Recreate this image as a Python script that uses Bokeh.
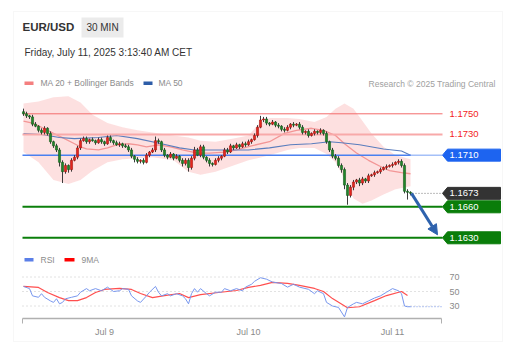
import numpy as np
from bokeh.plotting import figure
from bokeh.models import (Range1d, DatetimeAxis, LinearAxis, FixedTicker, Label,
                          BoxAnnotation, Arrow, NormalHead, ColumnDataSource)
from bokeh.embed import file_html
from bokeh.resources import INLINE

# ---------------- data ----------------
symbol = "EUR/USD"
interval = "30 MIN"
stamp = "Friday, July 11, 2025 3:13:40 AM CET"
first_candle = "2025-07-08T10:30"
first_open = 1.1752

close = [
    1.1750, 1.1748, 1.1747, 1.1740, 1.1738, 1.1734, 1.1732, 1.1736, 1.1731, 1.1723,
    1.1719, 1.1715, 1.1703, 1.1694, 1.1700, 1.1696, 1.1705, 1.1708, 1.1717, 1.1724,
    1.1726, 1.1723, 1.1725, 1.1724, 1.1722, 1.1725, 1.1723, 1.1721, 1.1727, 1.1724,
    1.1722, 1.1720, 1.1721, 1.1719, 1.1718, 1.1715, 1.1709, 1.1706, 1.1704, 1.1705,
    1.1703, 1.1710, 1.1713, 1.1715, 1.1724, 1.1723, 1.1715, 1.1710, 1.1708, 1.1711,
    1.1707, 1.1709, 1.1705, 1.1702, 1.1705, 1.1698, 1.1707, 1.1715, 1.1710, 1.1718,
    1.1708, 1.1705, 1.1702, 1.1701, 1.1705, 1.1707, 1.1709, 1.1715, 1.1713, 1.1719,
    1.1717, 1.1720, 1.1718, 1.1721, 1.1720, 1.1723, 1.1725, 1.1729, 1.1737, 1.1744,
    1.1745, 1.1741, 1.1740, 1.1742, 1.1739, 1.1738, 1.1735, 1.1734, 1.1737, 1.1740,
    1.1739, 1.1740, 1.1737, 1.1732, 1.1733, 1.1729, 1.1731, 1.1733, 1.1732, 1.1734,
    1.1731, 1.1723, 1.1715, 1.1709, 1.1707, 1.1700, 1.1696, 1.1681, 1.1671, 1.1679,
    1.1684, 1.1686, 1.1683, 1.1687, 1.1685, 1.1690, 1.1691, 1.1693, 1.1694, 1.1696,
    1.1698, 1.1699, 1.1700, 1.1701, 1.1703, 1.1704, 1.1700, 1.1675, 1.1674, 1.1673,
]
# wick lengths in pips beyond the candle body
wick_up = [
    3, 2, 1, 2, 2, 1, 2, 2, 1, 2,
    1, 2, 2, 2, 2, 1, 2, 2, 2, 2,
    2, 2, 1, 2, 1, 2, 2, 1, 2, 2,
    1, 2, 2, 1, 2, 2, 2, 1, 2, 1,
    2, 2, 1, 2, 4, 2, 1, 2, 1, 2,
    1, 2, 1, 2, 2, 2, 2, 3, 2, 2,
    2, 1, 2, 1, 2, 2, 1, 2, 2, 2,
    1, 2, 1, 2, 2, 2, 1, 2, 2, 4,
    2, 2, 1, 2, 1, 2, 1, 2, 2, 1,
    2, 1, 2, 2, 1, 2, 1, 2, 1, 2,
    1, 2, 1, 2, 2, 2, 2, 2, 2, 2,
    2, 1, 2, 2, 1, 2, 1, 2, 1, 2,
    1, 2, 1, 2, 1, 2, 2, 2, 2, 1,
]
wick_dn = [
    2, 2, 2, 2, 1, 2, 2, 2, 2, 2,
    2, 2, 4, 11, 2, 3, 2, 1, 2, 2,
    1, 2, 2, 1, 2, 1, 2, 2, 1, 2,
    2, 1, 2, 2, 1, 2, 2, 3, 2, 2,
    2, 1, 2, 1, 2, 2, 2, 2, 2, 1,
    2, 1, 2, 3, 2, 4, 2, 2, 1, 2,
    2, 2, 3, 2, 1, 2, 2, 1, 2, 1,
    2, 1, 2, 1, 2, 1, 2, 1, 2, 1,
    2, 2, 2, 1, 2, 2, 2, 2, 1, 2,
    2, 1, 2, 2, 2, 2, 1, 2, 2, 2,
    2, 2, 2, 2, 2, 2, 3, 4, 9, 2,
    3, 2, 3, 2, 2, 2, 1, 2, 1, 2,
    1, 2, 1, 2, 1, 2, 2, 2, 7, 2,
]

ma20_idx = [0, 3, 6, 10, 13, 17, 19, 21, 25, 28, 31, 35, 38, 41, 45, 49, 53, 58, 62, 67,
            71, 76, 82, 87, 91, 96, 100, 104, 107, 111, 115, 119, 122, 126, 129]
ma20 = [1.1743, 1.1741, 1.1737, 1.1731, 1.1727, 1.1721, 1.1718, 1.1716, 1.1715, 1.1717,
        1.1720, 1.1721, 1.1720, 1.1718, 1.1720, 1.1718, 1.1715, 1.1712, 1.1712, 1.1713,
        1.1715, 1.1719, 1.1723, 1.1731, 1.1734, 1.1736, 1.1734, 1.1729, 1.1721, 1.1712,
        1.1705, 1.1699, 1.1695, 1.1693, 1.1692]

band_idx = [0, 5, 10, 15, 19, 23, 28, 33, 38, 43, 50, 55, 59, 64, 70, 75, 78, 82, 88, 92,
            97, 101, 104, 107, 110, 113, 116, 120, 124, 129]
band_upper = [1.1760, 1.1762, 1.1766, 1.1767, 1.1761, 1.1749, 1.1741, 1.1737, 1.1734, 1.1732,
              1.1729, 1.1727, 1.1724, 1.1723, 1.1726, 1.1729, 1.1739, 1.1746, 1.1746, 1.1745,
              1.1742, 1.1747, 1.1755, 1.1760, 1.1755, 1.1743, 1.1731, 1.1718, 1.1710, 1.1706]
band_lower = [1.1713, 1.1703, 1.1686, 1.1682, 1.1686, 1.1695, 1.1703, 1.1706, 1.1707, 1.1708,
              1.1705, 1.1694, 1.1691, 1.1694, 1.1700, 1.1705, 1.1707, 1.1710, 1.1715, 1.1717,
              1.1717, 1.1711, 1.1703, 1.1687, 1.1668, 1.1663, 1.1666, 1.1672, 1.1677, 1.1680]

ma50_idx = [0, 6, 12, 17, 25, 31, 38, 46, 52, 57, 66, 75, 82, 89, 96, 102, 106, 112, 120, 126, 129]
ma50 = [1.1731, 1.1730, 1.1727, 1.1726, 1.1727, 1.1729, 1.1726, 1.1721, 1.1717, 1.1715,
        1.1715, 1.1715, 1.1717, 1.1720, 1.1721, 1.1723, 1.1722, 1.1720, 1.1716, 1.1714, 1.1710]

rsi_idx = [0, 2, 3, 5, 6, 7, 9, 10, 11, 12, 13, 14, 16, 18, 19, 21, 22, 24, 26, 28,
           30, 32, 33, 35, 36, 38, 39, 41, 42, 44, 45, 46, 48, 49, 51, 53, 54, 55, 56, 57,
           58, 59, 61, 62, 64, 66, 67, 69, 71, 73, 74, 76, 77, 79, 81, 83, 86, 88, 90, 92,
           95, 97, 98, 100, 101, 103, 105, 107, 108, 110, 111, 113, 115, 117, 119, 121, 123, 125, 126, 127,
           128, 129]
rsi = [57, 54, 44, 42, 47, 42, 37, 35, 40, 33, 35, 40, 42, 44, 49, 54, 51, 54, 51, 56,
       50, 51, 54, 53, 44, 37, 35, 44, 49, 57, 49, 44, 47, 44, 47, 44, 40, 33, 47, 54,
       49, 54, 47, 44, 49, 49, 54, 51, 54, 51, 56, 60, 64, 69, 67, 63, 61, 56, 60, 56,
       53, 47, 51, 47, 35, 30, 28, 15, 28, 33, 35, 33, 37, 41, 44, 49, 54, 51, 47, 30,
       29, 29]

ma9_idx = [0, 5, 8, 12, 15, 18, 21, 24, 27, 32, 36, 39, 43, 47, 52, 55, 59, 65, 71, 75,
           79, 83, 88, 92, 97, 100, 103, 108, 112, 117, 121, 126, 128]
ma9 = [57, 55.6, 48.6, 41.6, 37.4, 37.4, 41.6, 48.6, 52.8, 54.2, 52.8, 47.2, 41.6, 44.4, 47.2,
       41.6, 45.8, 48.6, 51.4, 55.6, 58.4, 62.6, 61.2, 58.4, 54.2, 50, 40.2, 27.6, 29, 37.4,
       44.4, 50, 44.4]

resistances = [1.1750, 1.1730]
pivot = 1.1710
last_price = 1.1673
supports = [1.1660, 1.1630]
target = 1.1630
rsi_levels = [30, 50, 70]
day_ticks = ["2025-07-09", "2025-07-10", "2025-07-11"]
day_labels = ["Jul 9", "Jul 10", "Jul 11"]

# ---------------- layout helpers (pixel -> data) ----------------
W, H = 522, 352
STEP = 30 * 60 * 1000
t0 = int(np.datetime64(first_candle, "ms").astype(np.int64))


def X(px):
    return t0 + (px - 23) / 3.0 * STEP


PPU = 10333.0


def Y(py):
    return 1.1750 - (py - 113.3) / PPU


def R(py):
    return 50 - (py - 291) / 0.725


def T(idx):
    return [t0 + i * STEP for i in idx]


FONT = "Liberation Sans"

p = figure(width=W, height=H, x_range=Range1d(X(0), X(W)), y_range=Range1d(Y(H), Y(0)),
           output_backend="svg", toolbar_location=None, x_axis_location=None,
           y_axis_location=None, min_border=0, outline_line_color=None,
           background_fill_color="white", border_fill_color="white")
p.extra_y_ranges = {"rsi": Range1d(R(H), R(0))}
p.grid.visible = False

# card
p.add_layout(BoxAnnotation(left=X(13), right=X(502), top=Y(11), bottom=Y(341),
                           fill_color=None, line_color="#e4e4e4", line_width=1))

# ---------------- price panel ----------------
n = len(close)
opens = [first_open] + close[:-1]
times = T(range(n))
top = [max(o, c) for o, c in zip(opens, close)]
bot = [min(o, c) for o, c in zip(opens, close)]
high = [t + u * 1e-4 for t, u in zip(top, wick_up)]
low = [b - d * 1e-4 for b, d in zip(bot, wick_dn)]
up = [c >= o for o, c in zip(opens, close)]
src = ColumnDataSource(dict(t=times, top=top, bot=bot, high=high, low=low,
                            fill=["#e3261d" if u else "#21862a" for u in up],
                            edge=["#a51410" if u else "#135a19" for u in up]))

p.varea(x=T(band_idx), y1=band_lower, y2=band_upper, fill_color="#fcd0d0", fill_alpha=0.65)
p.line(T(ma20_idx), ma20, line_color="#f39696", line_width=1.3)
p.line(T(ma50_idx), ma50, line_color="#5a7dbd", line_width=1.1)

for lv, col, lw in zip(resistances, ["#f36c6c", "#f8a9a9"], [1, 2]):
    p.segment(x0=X(22), x1=X(442), y0=lv, y1=lv, line_color=col, line_width=lw)
    p.add_layout(Label(x=X(449), y=lv, text=f"{lv:.4f}", text_color="#f21d1d",
                       text_font=FONT, text_font_size="9.5px", text_baseline="middle"))
p.segment(x0=X(22), x1=times[-1], y0=pivot, y1=pivot, line_color="#4a80f0", line_width=1.5)
p.segment(x0=times[-1], x1=X(442), y0=pivot, y1=pivot, line_color="#4a80f0",
          line_width=1.5, line_dash="1 1")
for lv in supports:
    p.segment(x0=X(22), x1=X(442), y0=lv, y1=lv, line_color="#0b7f0b", line_width=2)
p.segment(x0=X(412), x1=X(442), y0=last_price, y1=last_price, line_color="#777777",
          line_width=1, line_dash="1 2")

p.segment(x0="t", y0="high", x1="t", y1="low", source=src, line_color="#3c3c3c", line_width=1)
p.vbar(x="t", width=STEP * 0.7, top="top", bottom="bot", source=src,
       fill_color="fill", line_color="edge", line_width=0.6)

# tags
hh = 6 / PPU
for lv, col in [(pivot, "#1d64f0"), (last_price, "#333333"),
                (supports[0], "#0a7d0a"), (supports[1], "#0a7d0a")]:
    p.patch([X(442), X(447), X(500), X(500), X(447)],
            [lv, lv + hh, lv + hh, lv - hh, lv - hh], fill_color=col, line_color=col)
    p.add_layout(Label(x=X(449), y=lv, text=f"{lv:.4f}", text_color="white",
                       text_font=FONT, text_font_size="9.5px", text_baseline="middle"))

arrow_col = "#2e62ad"
p.add_layout(Arrow(end=NormalHead(size=10, fill_color=arrow_col, line_color=arrow_col),
                   x_start=X(411), y_start=close[-1], x_end=X(437), y_end=target + 3 / PPU,
                   line_color=arrow_col, line_width=3))

# ---------------- RSI panel ----------------
for lv in rsi_levels:
    p.segment(x0=X(22), x1=X(441), y0=lv, y1=lv, y_range_name="rsi",
              line_color="#c4c4c4", line_width=1, line_dash="1 3")
p.line(T(ma9_idx), ma9, y_range_name="rsi", line_color="#ff3030", line_width=1.2, line_alpha=0.85)
p.line(T(rsi_idx), rsi, y_range_name="rsi", line_color="#7897ee", line_width=1)
p.line([T(rsi_idx)[-1], X(441)], [rsi[-1], rsi[-1]], y_range_name="rsi",
       line_color="#7897ee", line_width=1, line_dash="1 2")

ticks = [int(np.datetime64(d, "ms").astype(np.int64)) for d in day_ticks]
xaxis = DatetimeAxis(ticker=FixedTicker(ticks=ticks, minor_ticks=[X(22.3), X(440.7)]),
                     fixed_location=R(318), y_range_name="rsi", bounds=(X(22), X(441)),
                     major_label_overrides={k: v for k, v in zip(ticks, day_labels)},
                     axis_line_color="#b0b0b0", axis_line_width=1.5,
                     major_tick_line_color=None, minor_tick_line_color="#b0b0b0",
                     minor_tick_in=0, minor_tick_out=5, major_label_standoff=2,
                     major_label_text_font=FONT, major_label_text_font_size="9px",
                     major_label_text_color="#8a8a8a")
p.add_layout(xaxis, "below")
yaxis = LinearAxis(y_range_name="rsi", ticker=FixedTicker(ticks=rsi_levels),
                   fixed_location=X(441), axis_line_color=None, major_tick_line_color=None,
                   minor_tick_line_color=None, major_label_standoff=2,
                   major_label_text_font=FONT, major_label_text_font_size="9px",
                   major_label_text_color="#8a8a8a")
p.add_layout(yaxis, "right")

# ---------------- texts ----------------
p.add_layout(Label(x=X(22), y=Y(26.5), text=symbol, text_font=FONT, text_font_size="11.5px",
                   text_font_style="bold", text_color="#333333", text_baseline="middle"))
p.add_layout(BoxAnnotation(left=X(81), right=X(123), top=Y(17), bottom=Y(37),
                           fill_color="#ebebeb", fill_alpha=1, line_color=None))
p.add_layout(Label(x=X(102), y=Y(27), text=interval, text_font=FONT, text_font_size="10px",
                   text_color="#333333", text_baseline="middle", text_align="center"))
p.add_layout(Label(x=X(24), y=Y(51.5), text=stamp, text_font=FONT, text_font_size="10px",
                   text_color="#333333", text_baseline="middle"))

p.add_layout(BoxAnnotation(left=X(24), right=X(33), top=Y(81), bottom=Y(84.5),
                           fill_color="#f47f7f", fill_alpha=1, line_color=None))
p.add_layout(Label(x=X(40), y=Y(82.5), text="MA 20 + Bollinger Bands", text_font=FONT,
                   text_font_size="8.5px", text_color="#8c8c8c", text_baseline="middle"))
p.add_layout(BoxAnnotation(left=X(143), right=X(152), top=Y(81), bottom=Y(84.5),
                           fill_color="#2d5da8", fill_alpha=1, line_color=None))
p.add_layout(Label(x=X(158), y=Y(82.5), text="MA 50", text_font=FONT,
                   text_font_size="8.5px", text_color="#8c8c8c", text_baseline="middle"))
p.add_layout(Label(x=X(495), y=Y(83), text="Research \u00a9 2025 Trading Central", text_font=FONT,
                   text_font_size="8.5px", text_color="#a0a0a0", text_baseline="middle",
                   text_align="right"))

p.add_layout(BoxAnnotation(left=X(24), right=X(33), top=Y(257.5), bottom=Y(261),
                           fill_color="#5b7fe8", fill_alpha=1, line_color=None))
p.add_layout(Label(x=X(40), y=Y(259), text="RSI", text_font=FONT,
                   text_font_size="8.5px", text_color="#8c8c8c", text_baseline="middle"))
p.add_layout(BoxAnnotation(left=X(64), right=X(74), top=Y(257.5), bottom=Y(261),
                           fill_color="#ff0000", fill_alpha=1, line_color=None))
p.add_layout(Label(x=X(81), y=Y(259), text="9MA", text_font=FONT,
                   text_font_size="8.5px", text_color="#8c8c8c", text_baseline="middle"))

open("out.html", "w").write(file_html(p, INLINE))
